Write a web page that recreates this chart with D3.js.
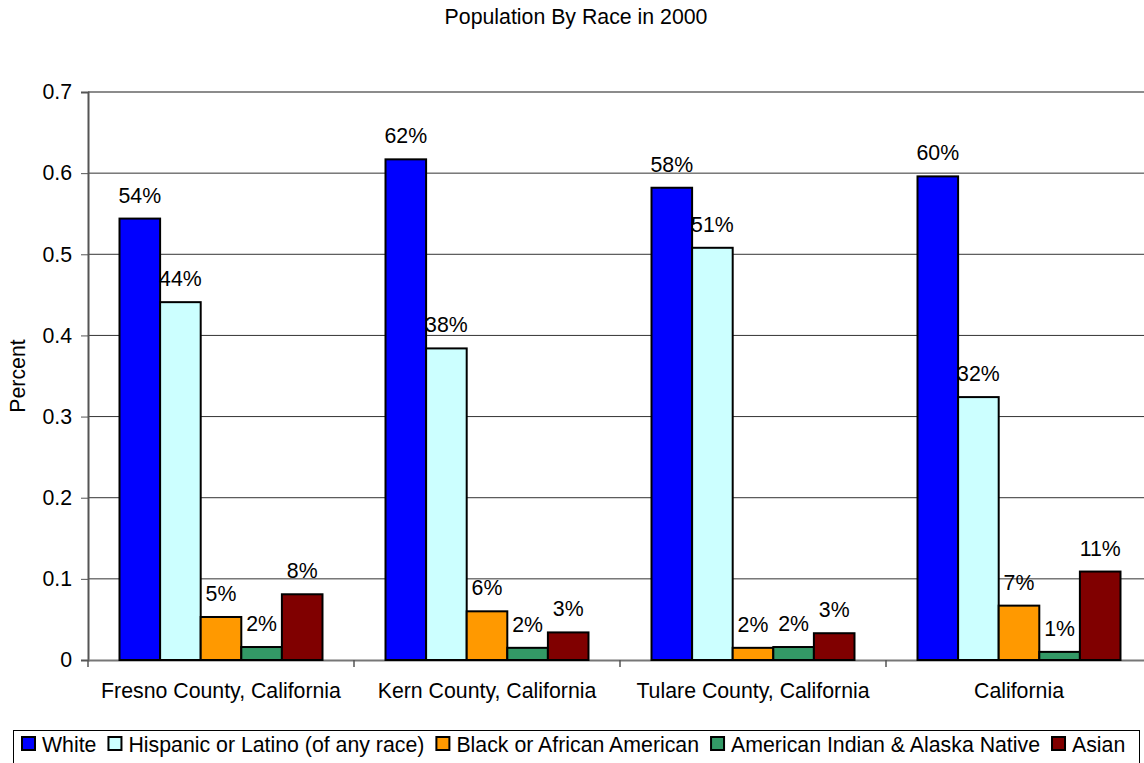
<!DOCTYPE html>
<html><head><meta charset="utf-8">
<script src="https://cdn.jsdelivr.net/npm/d3@7"></script>
<style>body{margin:0;background:#fff;} svg{display:block;font-family:"Liberation Sans",Arial,sans-serif;}</style>
</head><body>
<svg id="c" width="1144" height="763"></svg>
<script>
const title = "Population By Race in 2000";
const yTitle = "Percent";
const categories = ["Fresno County, California","Kern County, California","Tulare County, California","California"];
const series = ["White","Hispanic or Latino (of any race)","Black or African American","American Indian & Alaska Native","Asian"];
const colors = ["#0000FF","#CCFFFF","#FF9900","#339966","#800000"];
const white    = [0.544, 0.617, 0.582, 0.596];
const hispanic = [0.441, 0.384, 0.508, 0.324];
const black    = [0.053, 0.060, 0.015, 0.067];
const aian     = [0.016, 0.015, 0.016, 0.010];
const asian    = [0.081, 0.034, 0.033, 0.109];
const labels = [
  ["54%","62%","58%","60%"],
  ["44%","38%","51%","32%"],
  ["5%","6%","2%","7%"],
  ["2%","2%","2%","1%"],
  ["8%","3%","3%","11%"]
];
const yTicks = [0,0.1,0.2,0.3,0.4,0.5,0.6,0.7];
const values = [white, hispanic, black, aian, asian];

const svg = d3.select("#c");
const m = {left:88, right:1152, top:92, bottom:660};
const fs = 21.3;

const y = d3.scaleLinear().domain([0,0.7]).range([m.bottom, m.top]);
const x0 = d3.scaleBand().domain(categories).range([m.left, m.right]).padding(0);
const x1 = d3.scaleBand().domain(series).range([0, x0.bandwidth()]).paddingInner(0).paddingOuter(0.776);

// title
svg.append("text").attr("x", 576).attr("y", 24).attr("text-anchor","middle")
  .attr("font-size", fs).attr("fill","#000").text(title);

// gridlines
svg.append("g").selectAll("line").data(yTicks.filter(t => t>0 && t<0.7)).join("line")
  .attr("x1", m.left).attr("x2", m.right).attr("y1", d=>y(d)).attr("y2", d=>y(d))
  .attr("stroke","#333").attr("stroke-width",1);
// top border
svg.append("line").attr("x1",m.left).attr("x2",m.right).attr("y1",y(0.7)).attr("y2",y(0.7))
  .attr("stroke","#8c8c8c").attr("stroke-width",2);

// y axis
const yAxis = d3.axisLeft(y).tickValues(yTicks).tickSize(7).tickFormat(d => d===0 ? "0" : d3.format(".1f")(d));
const gy = svg.append("g").attr("transform",`translate(${m.left},0)`).call(yAxis);
gy.select(".domain").attr("stroke","#555").attr("stroke-width",2);
gy.selectAll(".tick line").attr("stroke","#555");
gy.selectAll(".tick text").attr("font-size",fs).attr("font-family","Liberation Sans, Arial, sans-serif").attr("fill","#000").attr("x",-16);

// x axis
const xAxis = d3.axisBottom(x0).tickSize(0).tickSizeOuter(0);
const gx = svg.append("g").attr("transform",`translate(0,${m.bottom})`).call(xAxis);
gx.select(".domain").attr("stroke","#777").attr("stroke-width",2);
gx.selectAll(".tick text").attr("font-size",fs).attr("font-family","Liberation Sans, Arial, sans-serif").attr("fill","#000").attr("dy",null).attr("y",38);
// category separator ticks
const bounds = categories.map(c => x0(c)).concat([x0(categories[categories.length-1]) + x0.bandwidth()]);
svg.append("g").selectAll("line").data(bounds).join("line")
  .attr("x1",d=>d).attr("x2",d=>d).attr("y1",m.bottom).attr("y2",m.bottom+7)
  .attr("stroke","#555").attr("stroke-width",1.5);

// bars
const groups = svg.append("g").selectAll("g").data(categories).join("g")
  .attr("transform", c => `translate(${x0(c)},0)`);
groups.each(function(c, ci){
  const g = d3.select(this);
  series.forEach((s, si) => {
    const v = values[si][ci];
    g.append("rect").attr("x", x1(s)).attr("width", x1.bandwidth())
      .attr("y", y(v)).attr("height", y(0)-y(v))
      .attr("fill", colors[si]).attr("stroke","#000").attr("stroke-width",2);
    g.append("text").attr("x", x1(s)+x1.bandwidth()/2).attr("y", y(v)-16)
      .attr("text-anchor","middle").attr("font-size",fs).attr("fill","#000")
      .text(labels[si][ci]);
  });
});

// y title
svg.append("text").attr("transform",`translate(25,${(m.top+m.bottom)/2}) rotate(-90)`)
  .attr("text-anchor","middle").attr("font-size",fs).attr("fill","#000").text(yTitle);

// legend
const lg = svg.append("g");
lg.append("rect").attr("x",13.5).attr("y",730.5).attr("width",1126).attr("height",40)
  .attr("fill","#fff").attr("stroke","#000").attr("stroke-width",1);
let lx = 22;
series.forEach((s, i) => {
  lg.append("rect").attr("x", lx).attr("y", 737).attr("width",13).attr("height",13)
    .attr("fill", colors[i]).attr("stroke","#000").attr("stroke-width",2);
  const t = lg.append("text").attr("x", lx+20).attr("y", 752).attr("font-size",fs).attr("fill","#000").text(s);
  lx += 20 + t.node().getComputedTextLength() + 12;
});
</script>
</body></html>
